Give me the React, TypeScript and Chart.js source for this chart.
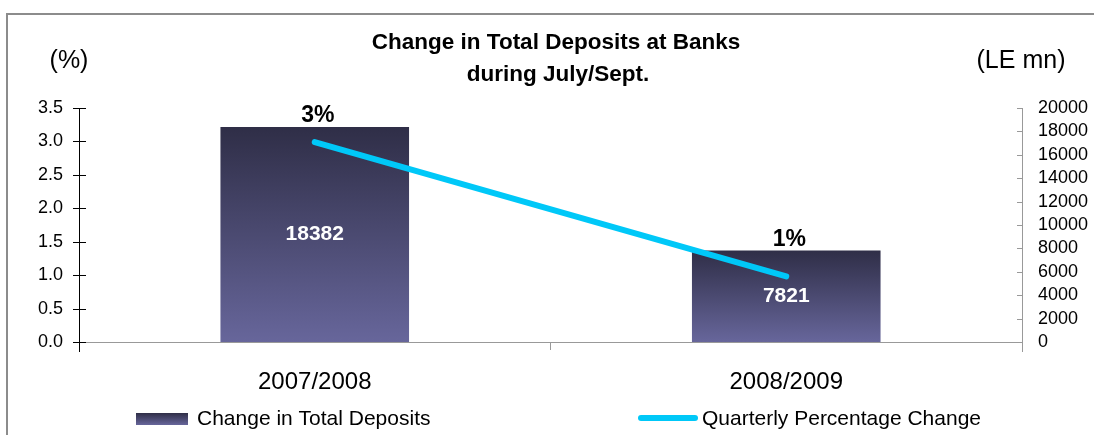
import React, { useEffect, useRef } from "react";
import { Chart, registerables } from "chart.js";

Chart.register(...registerables);

const categories = ["2007/2008", "2008/2009"];
const depositChange = [18382, 7821];
const pctChange = [2.99, 0.98];
const seriesLabels = ["Change in Total Deposits", "Quarterly Percentage Change"];
const titleLines = ["Change in Total Deposits at Banks", "during July/Sept."];
const leftUnit = "(%)";
const rightUnit = "(LE mn)";

const FONT = "'Liberation Sans', Arial, sans-serif";
const BAR_TOP = "#2f2e47";
const BAR_BOTTOM = "#67669b";
const LINE_COLOR = "#00c8f8";

function barGradient(ctx: CanvasRenderingContext2D, top: number, bottom: number) {
  const g = ctx.createLinearGradient(0, top, 0, bottom);
  g.addColorStop(0, BAR_TOP);
  g.addColorStop(1, BAR_BOTTOM);
  return g;
}

const decorPlugin = {
  id: "decor",
  afterDraw(chart: any) {
    const ctx: CanvasRenderingContext2D = chart.ctx;
    const area = chart.chartArea;
    const yL = chart.scales.y;
    const yR = chart.scales.y1;
    ctx.save();
    // frame
    ctx.strokeStyle = "#8c8c8c";
    ctx.lineWidth = 2;
    ctx.beginPath();
    ctx.moveTo(7, 440);
    ctx.lineTo(7, 14);
    ctx.lineTo(1100, 14);
    ctx.stroke();

    // left axis cross ticks
    ctx.strokeStyle = "#000";
    ctx.lineWidth = 1;
    ctx.beginPath();
    for (const t of yL.ticks) {
      const py = Math.round(yL.getPixelForValue(t.value)) + 0.5;
      ctx.moveTo(area.left - 6, py);
      ctx.lineTo(area.left + 7, py);
    }
    ctx.moveTo(area.left + 0.5, area.bottom);
    ctx.lineTo(area.left + 0.5, area.bottom + 10);
    ctx.stroke();

    // right axis inside ticks
    ctx.strokeStyle = "#999";
    ctx.beginPath();
    for (const t of yR.ticks) {
      const py = Math.round(yR.getPixelForValue(t.value)) + 0.5;
      ctx.moveTo(area.right - 5, py);
      ctx.lineTo(area.right, py);
    }
    ctx.moveTo(area.right + 0.5, area.bottom);
    ctx.lineTo(area.right + 0.5, area.bottom + 10);
    ctx.stroke();

    // title
    ctx.fillStyle = "#000";
    ctx.textAlign = "center";
    ctx.textBaseline = "middle";
    ctx.font = `bold 22.5px ${FONT}`;
    ctx.fillText(titleLines[0], 556, 43);
    ctx.fillText(titleLines[1], 558, 75);

    // unit labels
    ctx.font = `25px ${FONT}`;
    ctx.fillText(leftUnit, 69, 61);
    ctx.fillText(rightUnit, 1021, 61);

    // legend
    const ds = chart.data.datasets;
    ctx.fillStyle = barGradient(ctx, 413, 425);
    ctx.fillRect(136, 413, 52, 12);
    ctx.strokeStyle = LINE_COLOR;
    ctx.lineWidth = 6;
    ctx.lineCap = "round";
    ctx.beginPath();
    ctx.moveTo(641, 418);
    ctx.lineTo(695, 418);
    ctx.stroke();
    ctx.fillStyle = "#000";
    ctx.textAlign = "left";
    ctx.font = `21px ${FONT}`;
    ctx.fillText(ds[0].label, 197, 419);
    ctx.fillText(ds[1].label, 702, 419);
    ctx.restore();
  },
  afterDatasetsDraw(chart: any) {
    const ctx: CanvasRenderingContext2D = chart.ctx;
    const barMeta = chart.getDatasetMeta(0);
    const lineData = chart.data.datasets[1].data;
    const barData = chart.data.datasets[0].data;
    ctx.save();
    ctx.textAlign = "center";
    ctx.textBaseline = "middle";
    barMeta.data.forEach((el: any, i: number) => {
      const p = el.getProps(["x", "y", "base"], true);
      ctx.fillStyle = "#fff";
      ctx.font = `bold 21px ${FONT}`;
      ctx.fillText(String(barData[i]), p.x, (p.y + p.base) / 2);
      ctx.fillStyle = "#000";
      ctx.font = `bold 23px ${FONT}`;
      ctx.fillText(`${Math.round(lineData[i])}%`, p.x + 3, p.y - 11);
    });
    ctx.restore();
  },
};

export default function App() {
  const ref = useRef<HTMLCanvasElement | null>(null);
  useEffect(() => {
    document.body.style.margin = "0";
    const canvas = ref.current!;
    const chart = new Chart(canvas, {
      type: "bar",
      data: {
        labels: categories,
        datasets: [
          {
            type: "bar",
            label: seriesLabels[0],
            data: depositChange,
            yAxisID: "y1",
            order: 1,
            categoryPercentage: 1,
            barPercentage: 0.4,
            backgroundColor: (c: any) => {
              const ch = c.chart;
              const area = ch.chartArea;
              const s = ch.scales && ch.scales.y1;
              if (!area || !s || c.raw === undefined) return "#4b4a75";
              const top = s.getPixelForValue(c.raw);
              return barGradient(ch.ctx, top, area.bottom);
            },
            borderWidth: 0,
          },
          {
            type: "line",
            label: seriesLabels[1],
            data: pctChange,
            yAxisID: "y",
            order: 0,
            borderColor: LINE_COLOR,
            backgroundColor: LINE_COLOR,
            borderWidth: 6,
            borderCapStyle: "round",
            pointRadius: 0,
            tension: 0,
          },
        ],
      },
      options: {
        animation: false,
        responsive: false,
        devicePixelRatio: 1,
        layout: { padding: { top: 108, left: 0, right: 0, bottom: 0 } },
        plugins: { legend: { display: false }, tooltip: { enabled: false }, title: { display: false } },
        scales: {
          x: {
            offset: true,
            grid: { display: true, drawOnChartArea: false, drawTicks: true, tickLength: 8, color: "#999", offset: true },
            border: { display: true, color: "#999" },
            ticks: { color: "#000", font: { family: FONT, size: 24 }, padding: 18, maxRotation: 0 },
            afterFit: (s: any) => { s.height = 93; },
          },
          y: {
            position: "left",
            min: 0,
            max: 3.5,
            grid: { display: false, drawTicks: false },
            border: { display: true, color: "#000" },
            ticks: {
              stepSize: 0.5,
              autoSkip: false,
              color: "#000",
              padding: 16,
              font: { family: FONT, size: 18 },
              callback: (v: any) => Number(v).toFixed(1),
            },
            afterFit: (s: any) => { s.width = 79; },
          },
          y1: {
            position: "right",
            min: 0,
            max: 20000,
            grid: { display: false, drawTicks: false },
            border: { display: true, color: "#999" },
            ticks: {
              stepSize: 2000,
              autoSkip: false,
              color: "#000",
              padding: 16,
              font: { family: FONT, size: 18 },
              callback: (v: any) => String(v),
            },
            afterFit: (s: any) => { s.width = 72; },
          },
        },
      },
      plugins: [decorPlugin],
    });
    return () => chart.destroy();
  }, []);
  return (
    <div style={{ width: 1094, height: 435, background: "#fff" }}>
      <canvas ref={ref} width={1094} height={435} />
    </div>
  );
}
